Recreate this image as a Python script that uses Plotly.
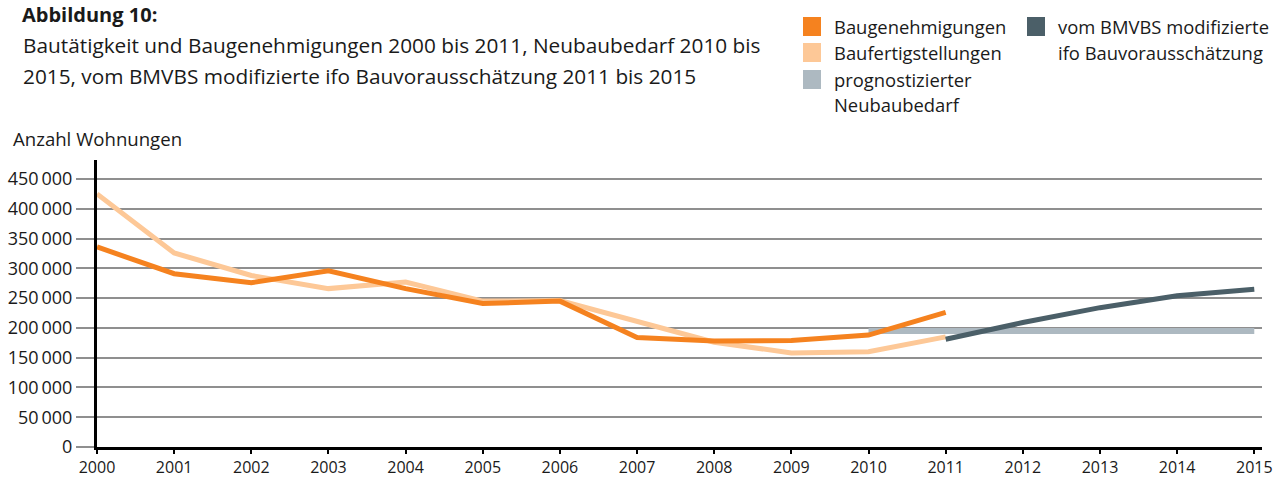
import plotly.graph_objects as go

years = list(range(2000, 2012))
baugenehmigungen = [336000, 291000, 276000, 296000, 266000, 241000, 245000, 184000, 178000, 179000, 188000, 226000]
baufertigstellungen = [425000, 326000, 288000, 266000, 277000, 245000, 246000, 210000, 176000, 158000, 160000, 185000]
bedarf_years = [2010, 2015]
neubaubedarf = [195000, 195000]
ifo_years = [2011, 2012, 2013, 2014, 2015]
ifo_prognose = [181000, 209000, 234000, 254000, 265000]

y_tickvals = [0, 50000, 100000, 150000, 200000, 250000, 300000, 350000, 400000, 450000]
y_ticktext = ["0", "50\u2009000", "100\u2009000", "150\u2009000", "200\u2009000", "250\u2009000",
              "300\u2009000", "350\u2009000", "400\u2009000", "450\u2009000"]
x_tickvals = list(range(2000, 2016))

ORANGE = "#F5821F"
LIGHT = "#FDC897"
GREY = "#ADB9C1"
DARK = "#4B5F68"
FONT = "Open Sans"
TXT = "#1a1a1a"

fig = go.Figure()
fig.add_trace(go.Scatter(x=bedarf_years, y=neubaubedarf, mode="lines",
                         line=dict(color=GREY, width=6), showlegend=False))
fig.add_trace(go.Scatter(x=years, y=baufertigstellungen, mode="lines",
                         line=dict(color=LIGHT, width=5), showlegend=False))
fig.add_trace(go.Scatter(x=years, y=baugenehmigungen, mode="lines",
                         line=dict(color=ORANGE, width=5), showlegend=False))
fig.add_trace(go.Scatter(x=ifo_years, y=ifo_prognose, mode="lines",
                         line=dict(color=DARK, width=5), showlegend=False))

W, H = 1278, 478
L, R, T, B = 97, 16, 160, 31
fig.update_layout(
    width=W, height=H,
    margin=dict(l=L, r=R, t=T, b=B, autoexpand=False),
    paper_bgcolor="white", plot_bgcolor="white",
    font=dict(family=FONT, size=17, color=TXT),
    xaxis=dict(range=[2000, 2015.1], tickvals=x_tickvals, ticktext=[str(v) for v in x_tickvals],
               showgrid=False, zeroline=False, showline=True, linecolor="black", linewidth=3,
               ticks="outside", ticklen=4, tickcolor="black", tickwidth=2, automargin=False,
               tickfont=dict(size=16, family=FONT, color=TXT), fixedrange=True),
    yaxis=dict(range=[0, 482000], tickvals=y_tickvals, ticktext=y_ticktext,
               showgrid=True, gridcolor="#8f8f8f", gridwidth=2, zeroline=False,
               showline=True, linecolor="black", linewidth=3, automargin=False,
               ticks="outside", ticklen=18, tickcolor="#8f8f8f", tickwidth=2,
               tickfont=dict(size=18, family=FONT, color=TXT), fixedrange=True),
)

annots = [
    dict(text="<b>Abbildung 10:</b>", x=21, y=14, size=20),
    dict(text="Bautätigkeit und Baugenehmigungen 2000 bis 2011, Neubaubedarf 2010 bis", x=22, y=45, size=20.8),
    dict(text="2015, vom BMVBS modifizierte ifo Bauvorausschätzung 2011 bis 2015", x=22, y=76, size=20.8),
    dict(text="Anzahl Wohnungen", x=12, y=138, size=18.6),
    dict(text="Baugenehmigungen", x=833, y=26, size=18.4),
    dict(text="Baufertigstellungen", x=833, y=52, size=18.4),
    dict(text="prognostizierter", x=833, y=79, size=18.4),
    dict(text="Neubaubedarf", x=833, y=104, size=18.4),
    dict(text="vom BMVBS modifizierte", x=1057, y=26, size=18.4),
    dict(text="ifo Bauvorausschätzung", x=1057, y=52, size=18.4),
]
PW, PH = W - L - R, H - T - B
for a in annots:
    fig.add_annotation(text=a["text"], xref="paper", yref="paper",
                       x=(a["x"] - L) / PW, y=(H - B - a["y"]) / PH,
                       xanchor="left", yanchor="middle", showarrow=False, borderpad=0,
                       font=dict(size=a["size"], family=FONT, color=TXT))

legend_boxes = [(803, 17, ORANGE), (803, 43, LIGHT), (803, 70, GREY), (1027, 17, DARK)]
for bx, by, col in legend_boxes:
    fig.add_shape(type="rect", xref="paper", yref="paper",
                  x0=(bx - L) / PW, x1=(bx + 18 - L) / PW,
                  y0=(H - B - by) / PH, y1=(H - B - by - 19) / PH,
                  fillcolor=col, line=dict(width=0))

fig.write_html("out.html", config={"displayModeBar": False},
               post_script="document.body.style.margin='0';document.body.style.overflow='hidden';")
